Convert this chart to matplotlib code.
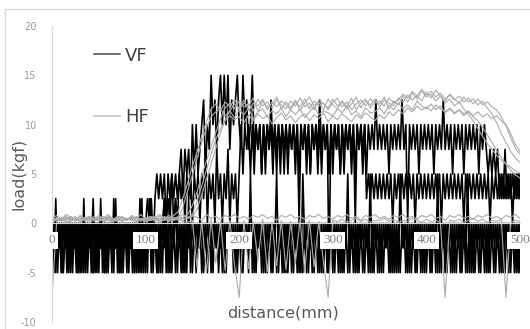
import matplotlib.pyplot as plt
from matplotlib.lines import Line2D
from matplotlib.patches import Rectangle
import numpy as np

# sample positions (mm)
DIST_VF = np.arange(0, 501, 2)
DIST_HF = np.arange(0, 501, 5)

# vertical force traces (kgf), quantised signal
VF_LOW1 = [
    0, -5, 2.5, -5, 0, -5, 0, -2.5, 0, -5, 0, -5, 0, -2.5, 0, -5, 0, -5, 0, -5, 0, -2.5, 2.5, -5, 0,
    -5, 2.5, -5, 0, -5, 0, -2.5, 0, -5, 2.5, -5, 0, -5, 0, -2.5, 0, -5, 0, -5, 0, -2.5, 0, -5, 2.5, -5,
    0, -5, 2.5, -5, 0, -2.5, 0, -5, 0, -5, 2.5, -5, 0, -5, 0, -2.5, 2.5, -5, 0, -5, 0, -5, 0, -2.5, 0,
    -5, 0, -5, 0, -2.5, 0, -5, 0, -5, 0, -5, 0, -2.5, 0, -5, 0, -5, 0, -5, 0, -2.5, 0, -5, 0, -5,
    0, -5, 0, -2.5, 0, -5, 5, -5, 0, -5, 0, -2.5, 0, -5, 0, -5, 0, -5, 0, -2.5, 5, -5, 0, -5, 0,
    -5, 0, -2.5, 0, -5, 0, -5, 0, -5, 5, -2.5, 0, -5, 0, -5, 0, -2.5, 0, -5, 0, -5, 0, -5, 0, -2.5,
    0, -5, 0, -5, 0, -5, 0, -2.5, 5, -5, 0, -5, 0, -5, 0, -2.5, 0, -5, 0, -5, 5, -5, 0, -2.5, 0,
    -5, 0, -5, 0, -2.5, 0, -5, 0, -5, 0, -5, 5, -2.5, 0, -5, 0, -5, 0, -2.5, 0, -5, 0, -5, 0, -5,
    0, -2.5, 0, -5, 0, -5, 5, -5, 0, -2.5, 0, -5, 0, -5, 0, -5, 0, -2.5, 0, -5, 0, -5, 5, -5, 0,
    -5, 0, -2.5, 0, -5, 0, -5, 0, -5, 0, -2.5, 0, -5, 0, -5, 0, -5, 0, -2.5, 0, -5, 0, -5, 0, -5,
    0]
VF_LOW2 = [
    -5, 0, -5, 0, -2.5, 0, -5, 0, -5, 0, -5, 0, -2.5, 0, -5, 0, -5, 2.5, -5, 0, -2.5, 0, -5, 0, -5,
    0, -2.5, 0, -5, 0, -5, 0, -5, 2.5, -2.5, 0, -5, 0, -5, 0, -5, 0, -2.5, 0, -5, 0, -5, 2.5, -5, 0,
    -5, 0, -2.5, 2.5, -5, 0, -5, 0, -5, 0, -2.5, 0, -5, 2.5, -5, 0, -5, 0, -2.5, 0, -5, 0, -5, 2.5, -5,
    0, -2.5, 0, -2.5, 0, -5, 0, -2.5, 0, -2.5, 0, -5, 0, -2.5, 0, -2.5, 0, -5, 0, -2.5, 0, -2.5, 0, -5, 0,
    -2.5, 0, -5, 0, -2.5, 0, -2.5, 0, -5, 0, -2.5, 0, -5, 0, -5, 0, -2.5, 0, -5, 0, -5, 0, -2.5, 0, -5,
    0, -5, 0, -5, 0, -2.5, 0, -5, 0, -5, 0, -5, 0, -2.5, 0, -5, 0, -5, 0, -5, 0, -2.5, 0, -5, 0,
    -5, 0, -2.5, 0, -5, 0, -5, 0, -5, 0, -2.5, 0, -5, 0, -5, 0, -5, 0, -2.5, 0, -5, 0, -5, 0, -5,
    0, -5, 0, -2.5, 0, -5, 0, -5, 0, -5, 0, -5, 0, -2.5, 0, -5, 0, -5, 0, -5, 0, -2.5, 0, -5, 0,
    -5, 0, -5, 0, -2.5, 0, -5, 0, -5, 0, -5, 0, -2.5, 0, -5, 0, -5, 0, -5, 0, -2.5, 0, -5, 0, -5,
    0, -5, 0, -5, 0, -2.5, 0, -5, 0, -5, 0, -5, 0, -2.5, 0, -5, 0, -5, 0, -5, 0, -2.5, 0, -5, 0,
    -5]
VF_MID = [
    -2.5, 0, -2.5, 0, -2.5, 0, -5, 0, -2.5, 0, -2.5, 0, -2.5, 0, -5, 0, -2.5, 0, -2.5, 0, -2.5, 0, -5, 0, -2.5,
    0, -2.5, 0, -5, 0, -2.5, 0, -2.5, 0, -2.5, 0, -5, 0, -2.5, 0, -2.5, 0, -2.5, 0, -5, 0, -2.5, 0, -2.5, 0,
    -2.5, 0, -2.5, 0, -2.5, 0, -5, 0, -2.5, 0, 2.5, 0, 2.5, 0, 5, 0, 2.5, 0, 5, 2.5, 5, 0, 5, 2.5, 5,
    0, 5, 2.5, 5, 0, 5, 2.5, 7.5, 0, 5, 2.5, 5, 0, 7.5, 2.5, 5, 0, 5, 2.5, 7.5, 0, 5, 2.5, 5, 0,
    5, 10, 5, 10, 7.5, 10, 5, 10, 5, 10, 7.5, 10, 5, 10, 5, 10, 7.5, 10, 5, 10, 5, 10, 7.5, 10, 5,
    10, 5, 10, 7.5, 10, 5, 10, 5, 10, 7.5, 10, 5, 10, 5, 10, 7.5, 10, 5, 10, 5, 10, 7.5, 10, 5, 10,
    5, 10, 7.5, 10, 5, 10, 5, 10, 7.5, 10, 5, 10, 5, 10, 7.5, 10, 5, 10, 2.5, 5, 2.5, 5, 2.5, 5, 2.5,
    5, 2.5, 5, 2.5, 5, 2.5, 5, 0, 5, 2.5, 5, 2.5, 5, 2.5, 5, 2.5, 5, 2.5, 5, 0, 5, 2.5, 5, 2.5, 5,
    2.5, 5, 2.5, 5, 2.5, 5, 2.5, 5, 0, 5, 2.5, 5, 2.5, 5, 2.5, 5, 2.5, 5, 2.5, 5, 0, 5, 2.5, 5, 2.5,
    5, 2.5, 5, 2.5, 5, 2.5, 5, 2.5, 5, 0, 5, 2.5, 5, 2.5, 5, 2.5, 5, 2.5, 5, 2.5, 5, 0, 5, 2.5, 5,
    2.5]
VF_HIGH = [
    0, -2.5, 0, -2.5, 0, -5, 0, -2.5, 0, -2.5, 0, -2.5, 0, -5, 0, -2.5, 0, -2.5, 0, -2.5, 0, -5, 0, -2.5, 0,
    -2.5, 0, -2.5, 0, -5, 0, -2.5, 0, -2.5, 0, -2.5, 0, -5, 0, -2.5, 0, -2.5, 0, -2.5, 0, -5, 0, -2.5, 0, -2.5,
    0, 2.5, 0, 2.5, -2.5, 2.5, 5, 2.5, 5, 2.5, 5, 0, 5, 2.5, 5, 2.5, 5, 2.5, 5, 7.5, 2.5, 7.5, 5, 7.5, 2.5,
    10, 5, 10, 5, 7.5, 10, 12.5, 5, 10, 7.5, 15, 10, 12.5, 7.5, 12.5, 15, 10, 15, 10, 15, 7.5, 12.5, 10, 12.5, 15,
    10, 7.5, 15, 10, 12.5, 7.5, 10, 15, 7.5, 10, 7.5, 10, 5, 10, 7.5, 10, 7.5, 12.5, 7.5, 10, 7.5, 10, 5, 10, 7.5,
    10, 7.5, 10, 7.5, 10, 7.5, 10, 0, 10, 7.5, 10, 7.5, 10, 5, 10, 7.5, 10, 7.5, 12.5, 7.5, 10, 7.5, 10, -5, 10,
    7.5, 10, 7.5, 10, 5, 10, 7.5, 10, 7.5, 10, 7.5, 10, 0, 10, 7.5, 10, 7.5, 10, 5, 10, 7.5, 10, 7.5, 12.5, 7.5,
    10, 7.5, 10, 7.5, 10, 5, 10, 7.5, 10, 7.5, 10, 7.5, 12.5, 7.5, 10, 0, 10, 7.5, 10, 7.5, 10, 5, 10, 7.5, 10,
    7.5, 10, 7.5, 10, 5, 10, 7.5, 10, 7.5, 12.5, 7.5, 10, 7.5, 10, 5, 10, 7.5, 10, 7.5, 10, 5, 10, 7.5, 10, 7.5,
    10, 7.5, 10, 5, 10, 7.5, 10, 7.5, 5, 7.5, 5, 7.5, 5, 7.5, 2.5, 5, 2.5, 7.5, 2.5, 5, 2.5, 5, 2.5, 5, 2.5,
    5]

# horizontal force traces (kgf)
HF_1 = [0.3, 0.5, 0.2, 0.6, 0.4, 0.3, 0.7, 0.2, 0.5, 0.4,
        0.6, 0.3, 0.5, 0.2, 0.7, 0.4, 0.3, 0.6, 0.2, 0.5,
        0.4, 0.7, 0.3, 0.5, 0.6, 0.4, 0.8, 1.2, 2.6, 4.1,
        5.8, 7.2, 8.9, 10.3, 11.6, 12.1, 11.4, 12.3, 11.8, 12.6,
        11.5, 12.2, 11.9, 12.7, 11.3, 12.4, 11.8, 12.1, 12.8, 11.6,
        12.3, 11.7, 12.5, 11.4, 12.2, 12.8, 11.9, 12.3, 11.5, 12.6,
        12.0, 11.6, 12.4, 11.8, 12.7, 11.5, 12.2, 12.6, 11.7, 12.3,
        12.1, 12.8, 11.6, 12.4, 12.0, 12.9, 12.3, 13.2, 12.6, 13.4,
        12.8, 13.1, 12.4, 12.9, 12.2, 12.6, 11.9, 12.3, 11.6, 11.0,
        10.4, 9.6, 8.8, 8.1, 7.5, 6.9, 6.4, 6.0, 5.7, 5.3,
        5.1]
HF_2 = [0.4, 0.2, 0.6, 0.3, 0.5, 0.7, 0.2, 0.4, 0.6, 0.3,
        0.5, 0.7, 0.3, 0.4, 0.2, 0.6, 0.5, 0.3, 0.7, 0.4,
        0.2, 0.5, 0.6, 0.3, 0.7, 0.4, 0.5, 0.3, 0.6, 0.9,
        1.8, 3.2, 4.9, 6.3, 7.8, 9.2, 10.6, 11.7, 12.2, 11.6,
        12.4, 11.8, 12.1, 11.4, 12.6, 11.9, 12.3, 11.7, 12.5, 12.0,
        11.6, 12.4, 11.9, 12.7, 11.8, 12.2, 11.5, 12.5, 12.1, 11.7,
        12.6, 11.9, 12.3, 11.6, 12.1, 12.8, 11.7, 12.4, 12.0, 12.6,
        11.8, 12.5, 12.2, 11.9, 12.7, 12.3, 13.0, 12.5, 12.9, 12.4,
        13.3, 12.7, 13.5, 12.9, 12.4, 13.1, 12.6, 12.2, 12.8, 12.3,
        12.6, 12.0, 12.4, 11.7, 11.1, 10.2, 9.1, 8.2, 7.3, 6.6,
        6.2]
HF_3 = [0.5, 0.3, 0.4, 0.7, 0.2, 0.5, 0.3, 0.6, 0.4, 0.7,
        0.3, 0.5, 0.6, 0.2, 0.4, 0.7, 0.3, 0.5, 0.6, 0.2,
        0.6, 0.3, 0.4, 0.7, 0.5, 0.2, 0.6, 0.4, 0.3, 0.5,
        0.7, 1.4, 2.9, 4.5, 6.0, 7.6, 9.1, 10.5, 11.4, 12.1,
        11.7, 12.5, 11.4, 12.2, 11.9, 12.6, 11.5, 12.3, 11.8, 12.4,
        12.0, 11.5, 12.3, 11.8, 12.6, 11.6, 12.4, 11.9, 12.2, 11.5,
        12.2, 12.7, 11.8, 12.3, 11.5, 12.1, 12.5, 11.9, 12.6, 12.2,
        12.4, 11.9, 12.7, 12.2, 12.5, 13.1, 12.7, 13.4, 12.9, 13.6,
        13.0, 13.4, 12.8, 13.2, 12.6, 13.0, 12.5, 12.9, 12.3, 12.7,
        12.1, 12.6, 12.0, 12.3, 11.8, 11.5, 10.8, 9.9, 8.7, 7.6,
        7.0]
HF_4 = [0.2, 0.6, 0.4, 0.3, 0.6, 0.2, 0.5, 0.4, 0.7, 0.3,
        0.4, 0.2, 0.6, 0.5, 0.3, 0.6, 0.4, 0.7, 0.3, 0.5,
        0.3, 0.6, 0.2, 0.5, 0.4, 0.6, 0.3, 0.5, 1.7, 3.3,
        4.9, 6.6, 8.2, 9.7, 10.8, 11.3, 11.6, 10.9, 11.4, 10.7,
        11.5, 11.0, 11.7, 10.6, 11.3, 11.6, 10.8, 11.4, 11.1, 11.7,
        10.8, 11.5, 11.0, 11.6, 10.7, 11.3, 11.8, 11.0, 11.4, 11.2,
        10.9, 11.6, 11.2, 11.9, 11.0, 11.4, 10.8, 11.7, 11.2, 11.3,
        11.7, 11.1, 12.0, 11.5, 12.2, 11.6, 12.0, 11.5, 12.4, 11.9,
        11.6, 12.1, 11.5, 11.9, 11.2, 11.6, 11.1, 11.5, 10.9, 11.3,
        10.8, 10.4, 9.7, 9.0, 8.2, 7.4, 6.7, 6.0, 5.4, 4.9,
        4.6]
HF_5 = [0.6, 0.4, 0.3, 0.5, 0.7, 0.4, 0.2, 0.6, 0.3, 0.5,
        0.2, 0.4, 0.7, 0.3, 0.6, 0.2, 0.5, 0.4, 0.6, 0.3,
        0.5, 0.4, 0.7, 0.2, 0.3, 0.6, 0.4, 0.7, 0.5, 0.6,
        0.9, 2.3, 3.8, 5.4, 7.0, 8.5, 9.6, 10.4, 10.9, 10.5,
        10.8, 10.2, 11.0, 10.4, 11.1, 10.6, 10.9, 10.1, 10.7, 11.2,
        10.5, 10.9, 10.2, 10.8, 11.1, 10.4, 11.0, 10.6, 11.2, 10.3,
        10.9, 10.5, 11.1, 10.7, 10.3, 11.0, 10.6, 11.2, 10.8, 10.4,
        11.0, 10.6, 11.3, 10.9, 11.5, 11.1, 11.7, 11.3, 11.9, 11.5,
        11.8, 11.4, 12.0, 11.6, 11.3, 11.7, 11.2, 11.5, 11.1, 11.4,
        10.9, 11.3, 10.8, 11.1, 10.6, 10.9, 10.4, 10.0, 9.1, 8.0,
        7.3]
HF_6 = [0.5, 0.8, 0.4, 0.9, 0.6, 0.3, 0.8, 0.5, 0.7, 0.4,
        0.8, 0.5, 0.9, 0.4, 0.7, 0.6, 0.3, 0.8, 0.5, 0.9,
        0.4, 0.7, 0.6, 0.9, 0.5, 0.8, 0.4, 0.7, 0.9, 0.5,
        0.8, 0.6, 0.3, 0.9, 0.5, 0.7, 0.4, 0.8, 0.6, 0.9,
        0.5, 0.7, 0.4, 0.8, 0.6, 0.9, 0.5, 0.7, 0.3, 0.8,
        0.6, 0.9, 0.5, 0.7, 0.4, 0.8, 0.6, 0.9, 0.5, 0.7,
        0.4, 0.8, 0.6, 0.9, 0.5, 0.7, 0.3, 0.8, 0.6, 0.9,
        0.5, 0.7, 0.4, 0.8, 0.6, 0.9, 0.5, 0.7, 0.4, 0.8,
        0.6, 0.9, 0.5, 0.7, 0.3, 0.8, 0.6, 0.9, 0.5, 0.7,
        0.4, 0.8, 0.6, 0.9, 0.5, 0.7, 0.4, 0.8, 0.6, 0.9,
        0.5]
HF_7 = [-7.5, 0.2, 0.4, 0.1, 0.3, 0.5, 0.2, 0.4, 0.1, 0.3,
        0.5, 0.2, 0.3, 0.1, 0.4, 0.2, 0.5, 0.3, 0.1, 0.4,
        0.2, 0.3, 0.5, 0.1, 0.4, 0.2, 0.3, 0.5, 0.2, 0.1,
        0.3, -4.5, 0.2, -5.0, 0.4, -4.0, 0.2, -4.8, 0.3, -4.2,
        -7.5, 0.3, -4.6, 0.2, -3.8, 0.4, -4.9, 0.1, -4.3, 0.3,
        -4.7, 0.2, -4.1, 0.4, -5.0, 0.3, -4.4, 0.2, -3.9, -7.5,
        0.3, 0.2, 0.4, 0.1, 0.3, 0.5, 0.2, 0.4, 0.1, 0.3,
        0.3, 0.5, 0.2, 0.4, 0.1, 0.3, 0.2, 0.5, 0.3, 0.1,
        0.4, 0.2, 0.3, 0.1, -7.5, 0.3, 0.2, 0.4, 0.1, 0.3,
        0.5, 0.2, 0.4, 0.1, 0.3, 0.2, 0.4, -7.5, 0.1, 0.3,
        0.2]

X_TICKS = [0, 100, 200, 300, 400, 500]
Y_TICKS = [-10, -5, 0, 5, 10, 15, 20]

fig = plt.figure(figsize=(5.3, 3.29), dpi=100)
ax = fig.add_axes([52 / 530, 7 / 329, 468 / 530, 296 / 329])

for vals in [VF_LOW1, VF_LOW2, VF_MID, VF_HIGH]:
    ax.plot(DIST_VF, vals, color='black', lw=1.2)
for vals in [HF_6, HF_7, HF_1, HF_2, HF_3, HF_4, HF_5]:
    ax.plot(DIST_HF, vals, color='#ababab', lw=0.8)

ax.set_xlim(0, 500)
ax.set_ylim(-10, 20)
ax.set_axisbelow(False)
ax.spines['top'].set_visible(False)
ax.spines['right'].set_visible(False)
ax.spines['left'].set_color('#d9d9d9')
ax.spines['bottom'].set_color('#d9d9d9')
ax.spines['bottom'].set_position(('data', 0))

ax.set_yticks(Y_TICKS, labels=[str(v) for v in Y_TICKS])
ax.set_xticks(X_TICKS, labels=[str(v) for v in X_TICKS])
ax.tick_params(axis='y', length=0, pad=11, labelsize=7, labelcolor='#9a9a9a')
ax.tick_params(axis='x', length=0, pad=8, labelsize=9.5, labelcolor='#808080')
for lbl in ax.get_xticklabels():
    lbl.set_family('Liberation Serif')
    lbl.set_bbox(dict(fc='white', ec='none', pad=2))

ax.set_ylabel('load(kgf)', fontsize=11.5, color='#595959')
ax.yaxis.set_label_coords(-0.054, 0.5)
fig.text(283 / 530, 1 - 313 / 329, 'distance(mm)', fontsize=11.5, color='#595959',
         ha='center', va='center')

handles = [Line2D([], [], color='#5f5252', lw=1.2),
           Line2D([], [], color='#c4c4c4', lw=1.2)]
ax.legend(handles, ['VF', 'HF'], loc='upper left', bbox_to_anchor=(0.09, 0.93),
          frameon=False, fontsize=13, labelcolor='#404040', handlelength=1.45,
          handletextpad=0.25, labelspacing=2.4, borderpad=0, borderaxespad=0)

fig.patches.append(Rectangle((5 / 530, -0.1), 1.2, 1 - 9 / 329 + 0.1,
                             transform=fig.transFigure, fill=False,
                             ec='#d9d9d9', lw=1))

fig.savefig('out.png', dpi=100)
